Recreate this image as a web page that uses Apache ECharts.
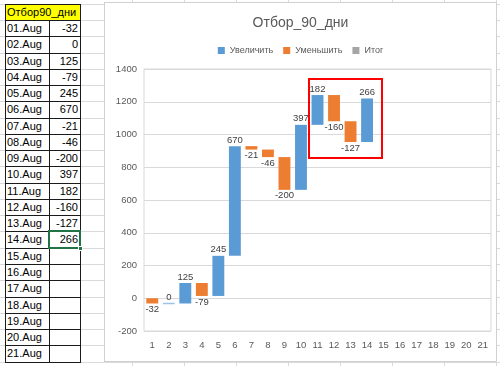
<!DOCTYPE html>
<html><head><meta charset="utf-8">
<script src="https://cdn.jsdelivr.net/npm/echarts@6/dist/echarts.min.js"></script>
<style>
body{margin:0;width:500px;height:366px;overflow:hidden;background:#fff;font-family:"Liberation Sans",Arial,sans-serif;position:relative}
.l{position:absolute;background:#dadada}
.b{position:absolute;background:#1a1a1a}
.c{position:absolute;font-size:11px;line-height:16px;color:#000;box-sizing:border-box;white-space:nowrap;padding:0 2px}
#chart{position:absolute;left:104px;top:2px;width:393px;height:360px;border:1px solid #d0d0d0;box-sizing:border-box;background:#fff}
</style></head><body>
<div id="sheet"></div>
<div id="chart"></div>
<script>
// ---- data ----
const headerText = "Отбор90_дни";
const dates = ["01.Aug","02.Aug","03.Aug","04.Aug","05.Aug","06.Aug","07.Aug","08.Aug","09.Aug","10.Aug","11.Aug","12.Aug","13.Aug","14.Aug","15.Aug","16.Aug","17.Aug","18.Aug","19.Aug","20.Aug","21.Aug"];
const values = [-32, 0, 125, -79, 245, 670, -21, -46, -200, 397, 182, -160, -127, 266];
const categories = ["1","2","3","4","5","6","7","8","9","10","11","12","13","14","15","16","17","18","19","20","21"];
const chartTitle = "Отбор_90_дни";
const legendNames = ["Увеличить", "Уменьшить", "Итог"];
const colors = ["#5b9bd5", "#ed7d31", "#a5a5a5"];

// ---- spreadsheet backdrop ----
const sheet = document.getElementById('sheet');
function add(cls, x, y, w, h, html, extra) {
  const d = document.createElement('div');
  d.className = cls;
  d.style.left = x + 'px'; d.style.top = y + 'px';
  d.style.width = w + 'px'; d.style.height = h + 'px';
  if (html !== undefined) d.textContent = html;
  if (extra) Object.assign(d.style, extra);
  sheet.appendChild(d);
  return d;
}
const rowH = 16.27, row0 = 3.7;
for (let k = 0; k <= 22; k++) add('l', 0, Math.round(row0 + rowH * k), 500, 1);
[132, 184, 236, 288, 340, 392, 444, 496].forEach(x => add('l', x, 0, 1, 366));
// header
const hTop = Math.round(row0), hBot = Math.round(row0 + rowH);
add('c', 5, hTop, 75, hBot - hTop, headerText, {background: '#ffff00', lineHeight: (hBot - hTop) + 'px'});
dates.forEach((d, i) => {
  const y1 = Math.round(row0 + rowH * (i + 1)), y2 = Math.round(row0 + rowH * (i + 2));
  add('c', 5, y1, 44, y2 - y1, d, {lineHeight: (y2 - y1) + 'px'});
  add('c', 49, y1, 31, y2 - y1, i < values.length ? String(values[i]) : '', {lineHeight: (y2 - y1) + 'px', textAlign: 'right'});
});
// table borders
for (let k = 0; k <= 22; k++) add('b', 5, Math.round(row0 + rowH * k), 76, 1);
add('b', 5, hTop, 1, Math.round(row0 + rowH * 22) - hTop + 1);
add('b', 80, hTop, 1, Math.round(row0 + rowH * 22) - hTop + 1);
add('b', 49, hBot, 1, Math.round(row0 + rowH * 22) - hBot + 1);
// selected cell
const sy1 = Math.round(row0 + rowH * 14), sy2 = Math.round(row0 + rowH * 15);
add('c', 48, sy1 - 1, 33, sy2 - sy1 + 2, '', {border: '2px solid #217346', padding: 0});
add('c', 78, sy2 - 2, 5, 5, '', {background: '#217346', border: '1px solid #fff', padding: 0});

// ---- chart ----
function waterfallSeries(name, color, keep) {
  const data = [];
  let run = 0;
  values.forEach((v, i) => { const s = run; run += v; if (keep(v)) data.push([i, s, run, v]); });
  return {
    type: 'custom', name, itemStyle: {color}, data,
    encode: {x: 0, y: [1, 2]},
    renderItem(params, api) {
      const i = api.value(0), s = api.value(1), e = api.value(2), v = api.value(3);
      const a = api.coord([i, s]), b = api.coord([i, e]);
      const w = api.size([1, 0])[0] * 0.72;
      const top = Math.min(a[1], b[1]);
      const h = Math.abs(a[1] - b[1]);
      const up = v >= 0;
      return {
        type: 'group', children: [
          {type: 'rect', shape: {x: a[0] - w / 2, y: h < 1.5 ? top - 0.75 : top, width: w, height: Math.max(h, 1.5)},
           style: {fill: h < 1.5 ? '#9dc3e6' : color}},
          {type: 'text', style: {text: String(v), x: a[0], y: up ? top - 1 : top + h + 1,
            align: 'center', verticalAlign: up ? 'bottom' : 'top', fill: '#404040',
            font: '9.5px "Liberation Sans", Arial, sans-serif'}}
        ]
      };
    }
  };
}

const chart = echarts.init(document.getElementById('chart'), null, {renderer: 'canvas'});
chart.setOption({
  animation: false,
  textStyle: {fontFamily: '"Liberation Sans", Arial, sans-serif'},
  title: {text: chartTitle, left: 'center', top: 8, textStyle: {fontSize: 14, fontWeight: 'normal', color: '#595959'}},
  legend: {top: 38, left: 'center', icon: 'rect', itemWidth: 7, itemHeight: 7, itemGap: 10,
    textStyle: {fontSize: 9, color: '#595959'},
    data: legendNames},
  grid: {left: 39, right: 5, top: 66, bottom: 30, show: true, borderColor: '#d9d9d9', borderWidth: 1},
  xAxis: {type: 'category', data: categories, axisTick: {show: false},
    axisLine: {show: false}, axisLabel: {color: '#595959', fontSize: 9.5, margin: 9}},
  yAxis: {type: 'value', min: -200, max: 1400, interval: 200,
    axisLine: {show: false}, axisTick: {show: false},
    splitLine: {lineStyle: {color: '#d9d9d9'}},
    axisLabel: {color: '#595959', fontSize: 9.5, margin: 7, formatter: v => String(v)}},
  series: [
    waterfallSeries(legendNames[0], colors[0], v => v >= 0),
    waterfallSeries(legendNames[1], colors[1], v => v < 0),
    {type: 'bar', name: legendNames[2], itemStyle: {color: colors[2]}, data: []}
  ],
  graphic: [{type: 'rect', shape: {x: 204, y: 76, width: 73, height: 79},
    style: {fill: 'none', stroke: '#ff0000', lineWidth: 2}, z: 100}]
});
</script>
</body></html>
